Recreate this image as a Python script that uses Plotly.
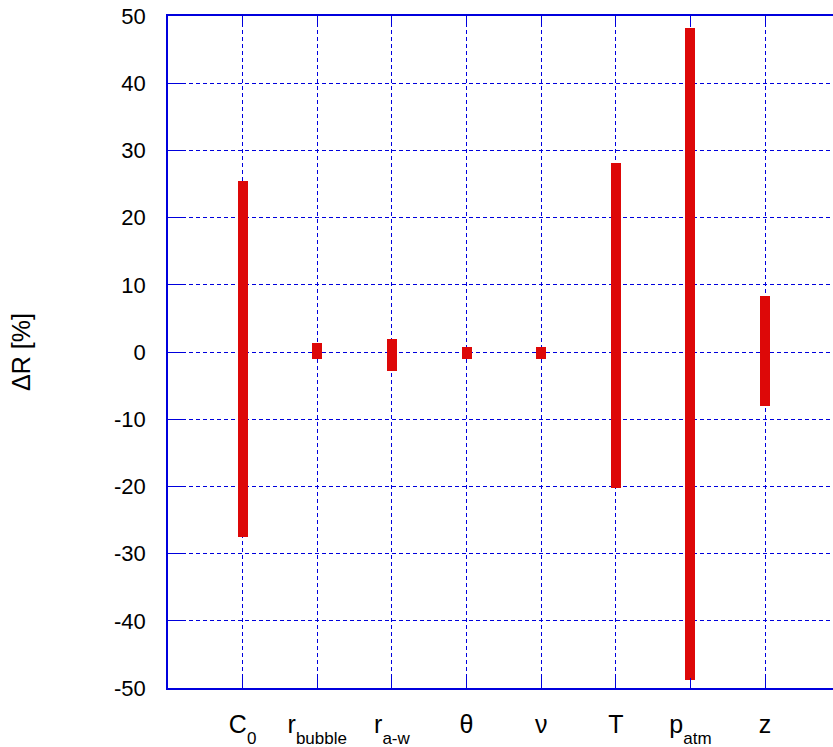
import plotly.graph_objects as go

# Parameter names and the spread of the response ΔR (low / high, in %)
SUB = "<sub><sub><sub><span style='font-size:17px'>{}</span></sub></sub></sub>"
params = ["C" + SUB.format("0"), "r" + SUB.format("bubble"), "r" + SUB.format("a-w"),
          "θ", "ν", "T", "p" + SUB.format("atm"), "z"]
delta_high = [25.4, 1.3, 2.0, 0.8, 0.7, 28.1, 48.2, 8.3]
delta_low = [-27.6, -1.1, -2.8, -1.0, -1.0, -20.3, -48.8, -8.1]
y_ticks = [50, 40, 30, 20, 10, 0, -10, -20, -30, -40, -50]

positions = list(range(1, len(params) + 1))
grid_blue = "#0000dd"

fig = go.Figure(
    go.Bar(
        x=positions,
        y=[h - l for h, l in zip(delta_high, delta_low)],
        base=delta_low,
        width=0.134,
        marker=dict(color="#dd0808", line=dict(width=0)),
        showlegend=False,
    )
)

fig.update_layout(
    width=833,
    height=747,
    margin=dict(l=168, r=0, t=16, b=59),
    plot_bgcolor="white",
    paper_bgcolor="white",
    font=dict(family="Liberation Sans, Arial, sans-serif", size=22, color="black"),
    bargap=0,
)

fig.update_xaxes(
    range=[0, 8.91],
    tickvals=positions,
    ticktext=params,
    showline=True,
    linecolor=grid_blue,
    linewidth=1.5,
    mirror="ticks",
    ticks="inside",
    ticklen=10,
    tickcolor=grid_blue,
    showgrid=True,
    gridcolor=grid_blue,
    griddash="4px,3px",
    gridwidth=1,
    zeroline=False,
    ticklabelstandoff=13,
    tickfont=dict(size=25),
)

fig.update_yaxes(
    range=[-50, 50],
    tickvals=y_ticks,
    ticktext=[str(v) for v in y_ticks],
    showline=True,
    linecolor=grid_blue,
    linewidth=1.5,
    ticks="inside",
    ticklen=14,
    tickcolor=grid_blue,
    showgrid=True,
    gridcolor=grid_blue,
    griddash="4px,3px",
    gridwidth=1,
    zeroline=False,
    ticklabelstandoff=16,
    title=dict(text="ΔR [%]", standoff=76, font=dict(size=25)),
)

fig.write_html("out.html")
